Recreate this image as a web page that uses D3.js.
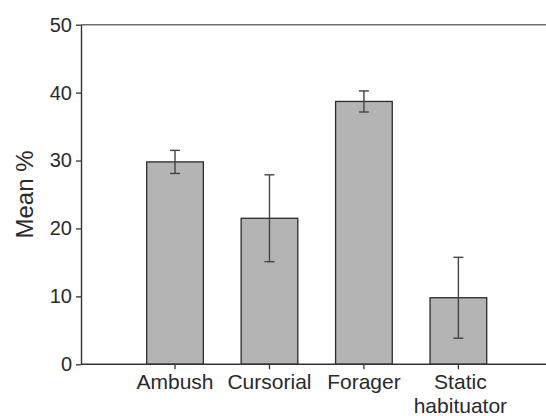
<!DOCTYPE html>
<html>
<head>
<meta charset="utf-8">
<script src="https://cdn.jsdelivr.net/npm/d3@7"></script>
<style>
  html, body { margin: 0; padding: 0; background: #fff; }
  svg { display: block; font-family: "Liberation Sans", Arial, Helvetica, sans-serif; }
</style>
</head>
<body>
<svg id="chart" width="546" height="416"></svg>
<script>
// Foraging strategies and their mean percentage (± error)
const categories = ["Ambush", "Cursorial", "Forager", "Static\nhabituator"];
const means = [29.8, 21.5, 38.7, 9.8];
const errors = [1.7, 6.4, 1.55, 5.95];
const yTicks = [0, 10, 20, 30, 40, 50];

const W = 546, H = 416;
const plotLeft = 81, plotTop = 24.7, plotBottom = 364.3;

const svg = d3.select("#chart");

const y = d3.scaleLinear().domain([0, 50]).range([plotBottom, plotTop]);
const x = d3.scaleBand()
  .domain(categories)
  .range([108.9, 524.5])
  .paddingInner(0.4)
  .paddingOuter(0.4);

const data = categories.map((c, i) => ({ c, m: means[i], e: errors[i] }));

// Top frame line
svg.append("line")
  .attr("x1", plotLeft).attr("x2", W)
  .attr("y1", y(50)).attr("y2", y(50))
  .attr("stroke", "#6e6e6e").attr("stroke-width", 1.4);

// Bars
svg.append("g").selectAll("rect")
  .data(data).join("rect")
  .attr("x", d => x(d.c))
  .attr("y", d => y(d.m))
  .attr("width", x.bandwidth())
  .attr("height", d => y(0) - y(d.m))
  .attr("fill", "#b4b4b5")
  .attr("stroke", "#2b2b2b")
  .attr("stroke-width", 1.3);

// Error bars
const eb = svg.append("g").attr("stroke", "#444").attr("stroke-width", 1.4);
const cap = 5;
data.forEach(d => {
  const cx = x(d.c) + x.bandwidth() / 2;
  eb.append("line").attr("x1", cx).attr("x2", cx)
    .attr("y1", y(d.m + d.e)).attr("y2", y(d.m - d.e));
  eb.append("line").attr("x1", cx - cap).attr("x2", cx + cap)
    .attr("y1", y(d.m + d.e)).attr("y2", y(d.m + d.e));
  eb.append("line").attr("x1", cx - cap).attr("x2", cx + cap)
    .attr("y1", y(d.m - d.e)).attr("y2", y(d.m - d.e));
});

// Y axis
const yAxis = svg.append("g")
  .attr("transform", `translate(${plotLeft},0)`)
  .call(d3.axisLeft(y).tickValues(yTicks).tickSize(5).tickPadding(4).tickSizeOuter(0));
yAxis.select(".domain").attr("stroke", "#333").attr("stroke-width", 1.4);
yAxis.selectAll(".tick line").attr("stroke", "#333").attr("stroke-width", 1.3);
yAxis.selectAll(".tick text")
  .attr("font-size", 20).attr("fill", "#2a2a2a")
  .attr("font-family", "Liberation Sans, Arial, sans-serif");

// X axis
const xAxis = svg.append("g")
  .attr("transform", `translate(0,${plotBottom})`)
  .call(d3.axisBottom(x).tickSize(5).tickSizeOuter(0).tickFormat(""));
xAxis.select(".domain").remove();
xAxis.selectAll(".tick line").attr("stroke", "#333").attr("stroke-width", 1.3);
svg.append("line")
  .attr("x1", plotLeft).attr("x2", W)
  .attr("y1", plotBottom).attr("y2", plotBottom)
  .attr("stroke", "#333").attr("stroke-width", 1.4);

// Category labels (multi-line)
const labels = svg.append("g")
  .attr("font-size", 21).attr("fill", "#2a2a2a").attr("text-anchor", "middle");
categories.forEach(c => {
  const cx = x(c) + x.bandwidth() / 2 + (c.includes("\n") ? 2 : 0);
  const t = labels.append("text").attr("x", cx).attr("y", 388.5);
  c.split("\n").forEach((line, i) => {
    t.append("tspan")
      .attr("x", cx)
      .attr("dy", i === 0 ? 0 : 24.5)
      .text(line);
  });
});

// Y axis title
svg.append("text")
  .attr("transform", `translate(33,${(plotTop + plotBottom) / 2}) rotate(-90)`)
  .attr("text-anchor", "middle")
  .attr("font-size", 24).attr("fill", "#2a2a2a")
  .text("Mean %");
</script>
</body>
</html>
